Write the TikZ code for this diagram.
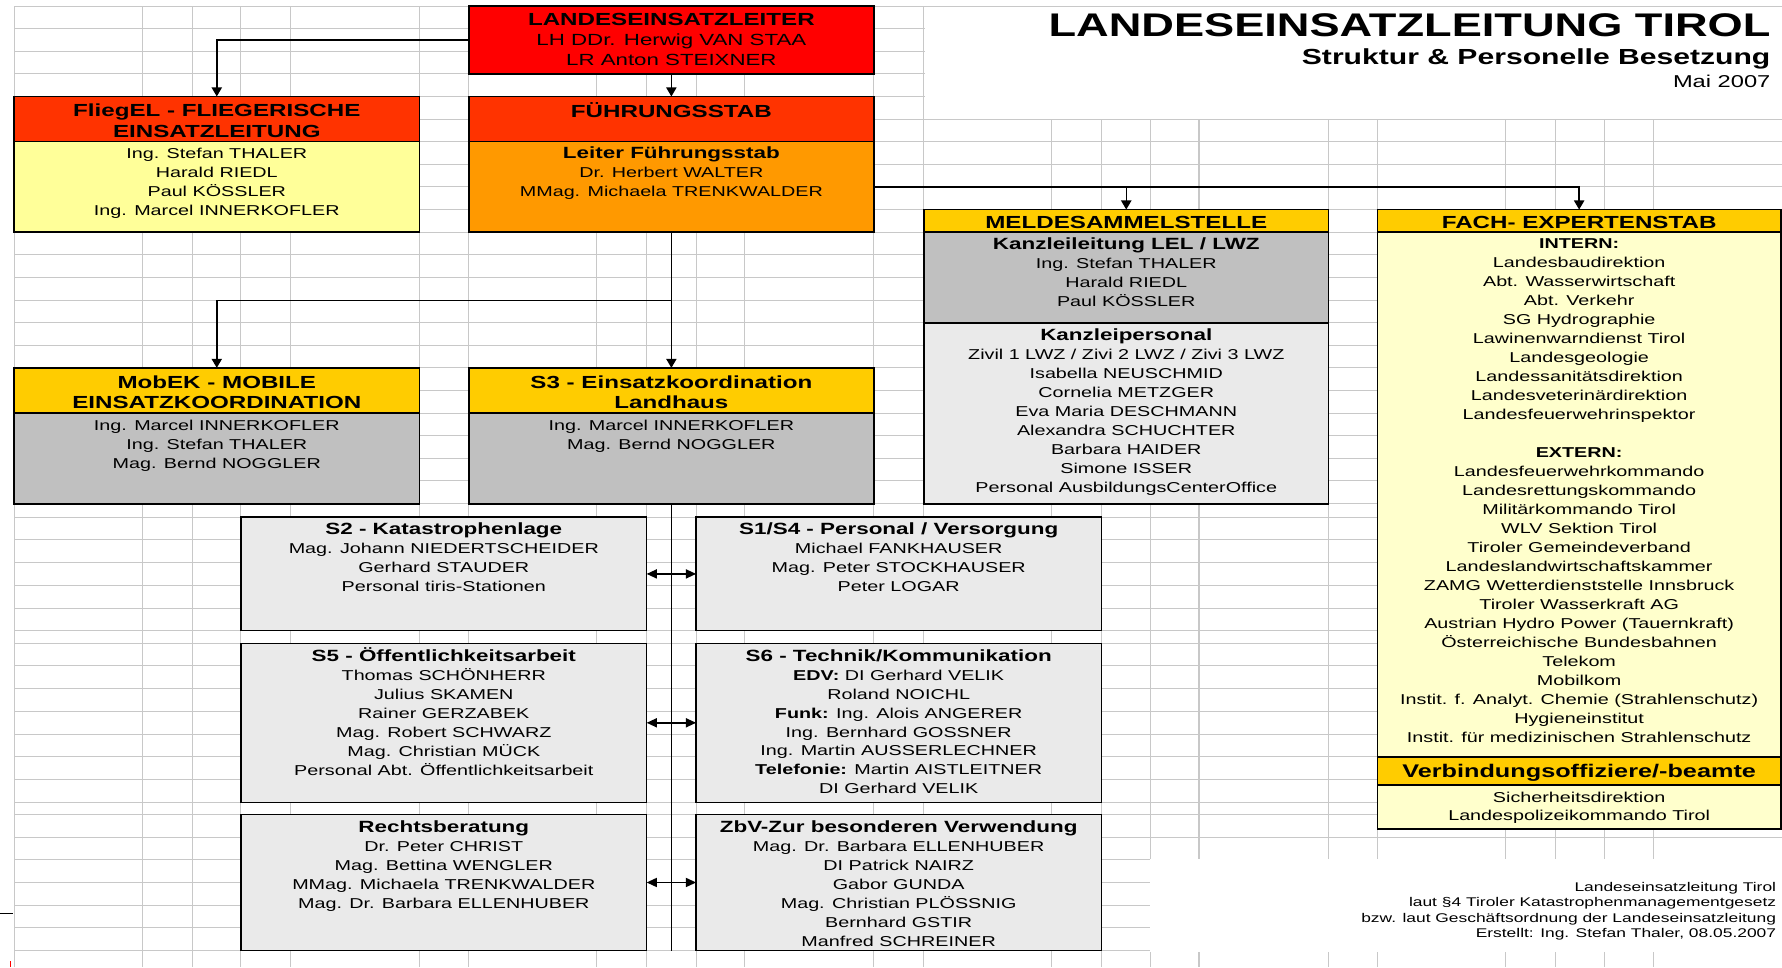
\documentclass[tikz,border=0pt]{standalone}
\usepackage{fontspec}
\setmainfont{Liberation Sans}[FakeStretch=1.38]
\usetikzlibrary{arrows.meta,fit}
\definecolor{gridc}{RGB}{200,200,200}
\definecolor{lelred}{RGB}{255,0,0}
\definecolor{hdred}{RGB}{255,51,0}
\definecolor{hdyel}{RGB}{255,204,0}
\definecolor{orng}{RGB}{255,153,0}
\definecolor{ltyel}{RGB}{255,255,153}
\definecolor{paleyel}{RGB}{255,255,204}
\definecolor{midgray}{RGB}{192,192,192}
\definecolor{ltgray}{RGB}{234,234,234}
\newcommand\bodyfont{\fontsize{12.6}{16.7}\selectfont}
\newcommand\subhd{\fontsize{14.3}{16.7}\selectfont\bfseries}
\newcommand\hdfont{\fontsize{15.4}{18}\selectfont\bfseries}
\begin{document}
\begin{tikzpicture}[x=1pt,y=-1pt,
  box/.style={draw=black,line width=1.3pt,inner sep=0pt,outer sep=0pt},
  txt/.style={anchor=north,inner sep=0pt,align=center,font=\bodyfont,text=black},
  hdtxt/.style={anchor=north,inner sep=0pt,align=center,font=\hdfont,text=black},
  conn/.style={line width=1.3pt,draw=black},
  arr/.style={conn,-{Triangle[length=8pt,width=9pt]}},
  darr/.style={conn,{Triangle[length=9pt,width=8pt]}-{Triangle[length=9pt,width=8pt]}},
  gridline/.style={draw=gridc,line width=0.9pt}]
\useasboundingbox (0,0) rectangle (1568,851);
\fill[white] (0,0) rectangle (1568,851);
% spreadsheet grid
\foreach \x in {12.5,125,169,212,255.5,369,412.5,525,569,612.5,655.5,769,813,925,969,1012,1055,1169,1212,1325,1369,1412,1455}
  \draw[gridline] (\x,5.3) -- (\x,851);
\foreach \k in {0,...,22}
  \draw[gridline] (12.5,5.3+19.9*\k) -- (1568,5.3+19.9*\k);
\foreach \y in {455,475,...,555,566,586,...,706}
  \draw[gridline] (12.5,\y) -- (1568,\y);
\foreach \y in {716.5,736.5,...,836.5}
  \draw[gridline] (12.5,\y) -- (1568,\y);
\fill[white] (813.5,5.9) rectangle (1568,104.3);
\fill[white] (1011.5,756) rectangle (1568,837.5);
\draw[line width=1pt] (0,803.7) -- (11,803.7);
\draw[red,line width=1.2pt] (9,846) -- (9,851);
% boxes
\node[box,fill=lelred,fit={(412.5,5.3) (769,65)}] (lel) {};
\node[box,fill=hdred,fit={(12.5,84.9) (369,124.7)}] (fliegH) {};
\node[box,fill=ltyel,fit={(12.5,124.7) (369,204.3)}] (fliegB) {};
\node[box,fill=hdred,fit={(412.5,84.9) (769,124.7)}] (fstabH) {};
\node[box,fill=orng,fit={(412.5,124.7) (769,204.3)}] (fstabB) {};
\node[box,fill=hdyel,fit={(12.5,323.7) (369,363.5)}] (mobH) {};
\node[box,fill=midgray,fit={(12.5,363.5) (369,443.3)}] (mobB) {};
\node[box,fill=hdyel,fit={(412.5,323.7) (769,363.5)}] (s3H) {};
\node[box,fill=midgray,fit={(412.5,363.5) (769,443.3)}] (s3B) {};
\node[box,fill=hdyel,fit={(813,184.4) (1169,204.3)}] (meldH) {};
\node[box,fill=midgray,fit={(813,204.3) (1169,284)}] (meldA) {};
\node[box,fill=ltgray,fit={(813,284) (1169,443.3)}] (meldB) {};
\node[box,fill=hdyel,fit={(1212,184.4) (1567,204.3)}] (fachH) {};
\node[box,fill=paleyel,fit={(1212,204.3) (1567,666)}] (fachB) {};
\node[box,fill=hdyel,fit={(1212,666) (1567,690.7)}] (verbH) {};
\node[box,fill=paleyel,fit={(1212,690.7) (1567,729.5)}] (verbB) {};
\node[box,fill=ltgray,fit={(212,455) (569,555)}] (s2) {};
\node[box,fill=ltgray,fit={(612.5,455) (969,555)}] (s14) {};
\node[box,fill=ltgray,fit={(212,566) (569,706)}] (s5) {};
\node[box,fill=ltgray,fit={(612.5,566) (969,706)}] (s6) {};
\node[box,fill=ltgray,fit={(212,716.5) (569,836.5)}] (recht) {};
\node[box,fill=ltgray,fit={(612.5,716.5) (969,836.5)}] (zbv) {};
% connectors
\draw[arr] (lel.west) -| (fliegH.north);
\draw[arr] (lel.south) -- (fstabH.north);
\draw[arr] (fstabB.east) -| (meldH.north);
\draw[arr] (fstabB.east) -| (fachH.north);
\draw[arr] (fstabB.south) -- (s3H.north);
\coordinate (branch) at (590.75,264.6);
\draw[arr] (branch) -| (mobH.north);
\coordinate (vend) at (s3B.south |- recht.south);
\draw[conn] (s3B.south) -- (vend);
\draw[darr] (s2.east) -- (s14.west);
\draw[darr] (s5.east) -- (s6.west);
\draw[darr] (recht.east) -- (zbv.west);
% title
\node[anchor=base east,inner sep=0pt,font=\fontsize{28.8}{30}\selectfont\bfseries] (title) at (1558,32.3) {LANDESEINSATZLEITUNG TIROL};
\node[anchor=base east,inner sep=0pt,font=\fontsize{19.2}{22}\selectfont\bfseries] (subtitle) at (1558,56.9) {Struktur \& Personelle Besetzung};
\node[anchor=base east,inner sep=0pt,font=\fontsize{15.1}{18}\selectfont] (date) at (1558,77.4) {Mai 2007};
% texts
\node[txt,font=\fontsize{14.2}{17.5}\selectfont] (tlel) at (590.75,10.25) {\strut{\hdfont LANDESEINSATZLEITER}\\LH DDr. Herwig VAN STAA\\LR Anton STEIXNER};
\node[hdtxt] (tfliegH) at (190.75,89.9) {\strut FliegEL - FLIEGERISCHE\\EINSATZLEITUNG};
\node[txt] (tfliegB) at (190.75,127.8) {\strut Ing. Stefan THALER\\Harald RIEDL\\Paul KÖSSLER\\Ing. Marcel INNERKOFLER};
\node[hdtxt] (tfstabH) at (590.75,89.9) {\strut FÜHRUNGSSTAB};
\node[txt] (tfstabB) at (590.75,127.8) {\strut{\subhd Leiter Führungsstab}\\Dr. Herbert WALTER\\MMag. Michaela TRENKWALDER};
\node[hdtxt] (tmobH) at (190.75,328.9) {\strut MobEK - MOBILE\\EINSATZKOORDINATION};
\node[txt] (tmobB) at (190.75,366.8) {\strut Ing. Marcel INNERKOFLER\\Ing. Stefan THALER\\Mag. Bernd NOGGLER};
\node[hdtxt] (ts3H) at (590.75,328.9) {\strut S3 - Einsatzkoordination\\Landhaus};
\node[txt] (ts3B) at (590.75,366.8) {\strut Ing. Marcel INNERKOFLER\\Mag. Bernd NOGGLER};
\node[hdtxt] (tmeldH) at (991,187.9) {\strut MELDESAMMELSTELLE};
\node[txt] (tmeldA) at (991,207.8) {\strut{\subhd Kanzleileitung LEL / LWZ}\\Ing. Stefan THALER\\Harald RIEDL\\Paul KÖSSLER};
\node[txt] (tmeldB) at (991,287.8) {\strut{\subhd Kanzleipersonal}\\Zivil 1 LWZ / Zivi 2 LWZ / Zivi 3 LWZ\\Isabella NEUSCHMID\\Cornelia METZGER\\Eva Maria DESCHMANN\\Alexandra SCHUCHTER\\Barbara HAIDER\\Simone ISSER\\Personal AusbildungsCenterOffice};
\node[hdtxt] (tfachH) at (1389.5,187.9) {\strut FACH- EXPERTENSTAB};
\node[txt] (tfachB) at (1389.5,206.8) {\strut\textbf{INTERN:}\\Landesbaudirektion\\Abt. Wasserwirtschaft\\Abt. Verkehr\\SG Hydrographie\\Lawinenwarndienst Tirol\\Landesgeologie\\Landessanitätsdirektion\\Landesveterinärdirektion\\Landesfeuerwehrinspektor\\\strut\\\textbf{EXTERN:}\\Landesfeuerwehrkommando\\Landesrettungskommando\\Militärkommando Tirol\\WLV Sektion Tirol\\Tiroler Gemeindeverband\\Landeslandwirtschaftskammer\\ZAMG Wetterdienststelle Innsbruck\\Tiroler Wasserkraft AG\\Austrian Hydro Power (Tauernkraft)\\Österreichische Bundesbahnen\\Telekom\\Mobilkom\\Instit. f. Analyt. Chemie (Strahlenschutz)\\Hygieneinstitut\\Instit. für medizinischen Strahlenschutz};
\node[hdtxt,font=\fontsize{16.1}{18}\selectfont\bfseries] (tverbH) at (1389.5,671.2) {\strut Verbindungsoffiziere/-beamte};
\node[txt] (tverbB) at (1389.5,693.8) {\strut Sicherheitsdirektion\\Landespolizeikommando Tirol};
\node[txt] (ts2) at (390.5,458.8) {\strut{\subhd S2 - Katastrophenlage}\\Mag. Johann NIEDERTSCHEIDER\\Gerhard STAUDER\\Personal tiris-Stationen};
\node[txt] (ts14) at (790.75,458.8) {\strut{\subhd S1/S4 - Personal / Versorgung}\\Michael FANKHAUSER\\Mag. Peter STOCKHAUSER\\Peter LOGAR};
\node[txt] (ts5) at (390.5,569.8) {\strut{\subhd S5 - Öffentlichkeitsarbeit}\\Thomas SCHÖNHERR\\Julius SKAMEN\\Rainer GERZABEK\\Mag. Robert SCHWARZ\\Mag. Christian MÜCK\\Personal Abt. Öffentlichkeitsarbeit};
\node[txt] (ts6) at (790.75,569.8) {\strut{\subhd S6 - Technik/Kommunikation}\\\textbf{EDV:} DI Gerhard VELIK\\Roland NOICHL\\\textbf{Funk:} Ing. Alois ANGERER\\Ing. Bernhard GOSSNER\\Ing. Martin AUSSERLECHNER\\\textbf{Telefonie:} Martin AISTLEITNER\\DI Gerhard VELIK};
\node[txt] (trecht) at (390.5,720.8) {\strut{\subhd Rechtsberatung}\\Dr. Peter CHRIST\\Mag. Bettina WENGLER\\MMag. Michaela TRENKWALDER\\Mag. Dr. Barbara ELLENHUBER};
\node[txt] (tzbv) at (790.75,720.8) {\strut{\subhd ZbV-Zur besonderen Verwendung}\\Mag. Dr. Barbara ELLENHUBER\\DI Patrick NAIRZ\\Gabor GUNDA\\Mag. Christian PLÖSSNIG\\Bernhard GSTIR\\Manfred SCHREINER};
% footnote
\node[anchor=north east,inner sep=0pt,align=right,font=\fontsize{11.1}{13.6}\selectfont] (foot) at (1563,774.5) {\strut Landeseinsatzleitung Tirol\\laut §4 Tiroler Katastrophenmanagementgesetz\\bzw. laut Geschäftsordnung der Landeseinsatzleitung\\Erstellt: Ing. Stefan Thaler, 08.05.2007};
\end{tikzpicture}
\end{document}
